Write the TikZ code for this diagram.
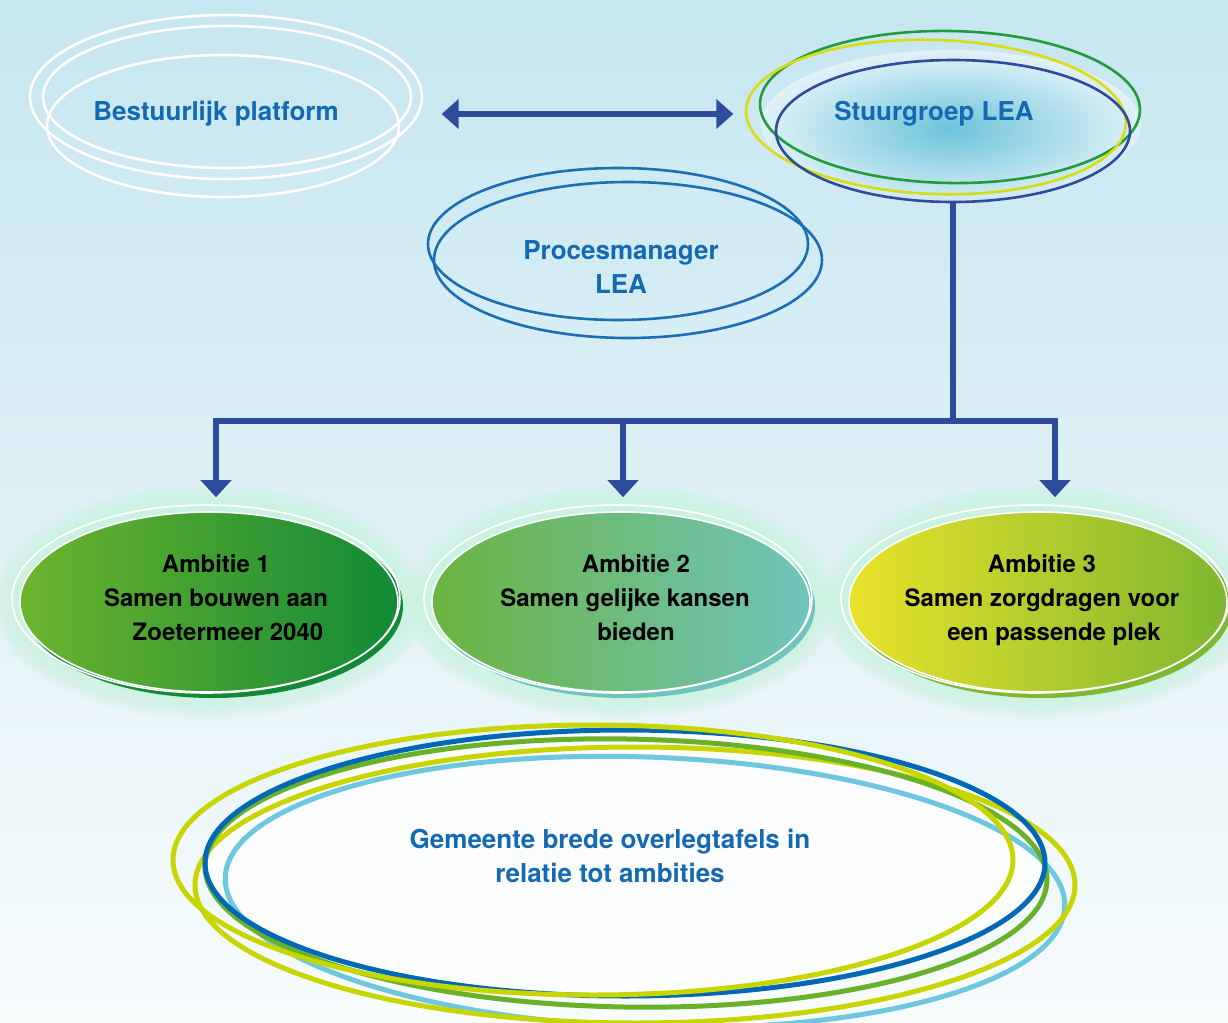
\documentclass[tikz,border=0pt]{standalone}
\usepackage{fontspec}
\setmainfont{TeX Gyre Heros}
\usetikzlibrary{shapes.geometric, arrows.meta, positioning, calc}
\definecolor{bgtop}{HTML}{C6E6F0}
\definecolor{bgmid}{HTML}{E3F2F7}
\definecolor{bgbot}{HTML}{F8FCFD}
\definecolor{textblue}{HTML}{1469B3}
\definecolor{navy}{HTML}{2F4B9C}
\definecolor{procblue}{HTML}{1B6DB5}
\definecolor{stuurgreen}{HTML}{239A3E}
\definecolor{stuuryellow}{HTML}{D8DC10}
\definecolor{glowcyan}{HTML}{6CC3DB}
\definecolor{mint}{HTML}{C4F2DA}
\definecolor{amba}{HTML}{6CB42D}
\definecolor{ambb}{HTML}{128A37}
\definecolor{ambc}{HTML}{6BB440}
\definecolor{ambd}{HTML}{6FC4BD}
\definecolor{ambe}{HTML}{E9E22A}
\definecolor{ambf}{HTML}{7EB730}
\definecolor{limering}{HTML}{C7D500}
\definecolor{bluering}{HTML}{0068B4}
\definecolor{greenring}{HTML}{6AB12A}
\definecolor{skyring}{HTML}{6DC7DE}

\begin{document}
\begin{tikzpicture}[x=0.5pt, y=0.5pt]
    \tikzstyle{ring} = [line width=1.3pt]
    \tikzstyle{bigring} = [line width=2.5pt]
    \tikzstyle{bluetext} = [text=textblue, font=\fontsize{13}{17}\selectfont\bfseries, align=center]
    \tikzstyle{ambtext} = [text=black, font=\fontsize{12}{17}\selectfont\bfseries, align=center]
    \tikzstyle{ambitie} = [ellipse, minimum width=189pt, minimum height=90pt, inner sep=0pt, draw=white, line width=0.8pt]
    \tikzstyle{bar} = [line width=2.7pt, draw=navy]
    \tikzstyle{arrow} = [bar, -{Triangle[width=15pt,length=8.5pt]}]
    \tikzstyle{dblarrow} = [bar, {Triangle[width=14.5pt,length=8.5pt]}-{Triangle[width=14.5pt,length=8.5pt]}]

    \useasboundingbox (0,0) rectangle (1228,-1023);
    \shade[top color=bgtop, middle color=bgmid, bottom color=bgbot] (0,0) rectangle (1228,-1023);

    \draw[ring, white] (226,-97) ellipse [x radius=98pt, y radius=41pt];
    \draw[ring, white] (227,-97) ellipse [x radius=92pt, y radius=35.5pt];
    \draw[ring, white] (223,-126) ellipse [x radius=88pt, y radius=35.5pt];
    \node[bluetext] (bestuur) at (216,-114) {Bestuurlijk platform};

    \begin{scope}
        \clip (951,-124) ellipse [x radius=95pt, y radius=37pt];
        \shade[inner color=glowcyan, outer color=white] (951,-130) ellipse [x radius=122pt, y radius=50pt];
    \end{scope}
    \draw[ring, stuurgreen, rotate around={-1:(950,-107)}] (950,-107) ellipse [x radius=95pt, y radius=38pt];
    \draw[ring, stuuryellow, rotate around={-2:(936,-117)}] (936,-117) ellipse [x radius=95pt, y radius=38.5pt];
    \node[ellipse, draw=navy, ring, minimum width=177pt, minimum height=71pt, inner sep=0pt] (stuur) at (953,-131) {};
    \node[bluetext] (stuurtekst) at (934,-114) {Stuurgroep LEA};

    \draw[dblarrow, shorten <=48pt, shorten >=47pt] (bestuur.east) -- (stuurtekst.west);

    \draw[ring, procblue] (618,-244) ellipse [x radius=95pt, y radius=38pt];
    \draw[ring, procblue] (628,-260) ellipse [x radius=97pt, y radius=39pt];
    \node[bluetext] (proces) at (621,-267) {Procesmanager\\LEA};

    \foreach \cx in {209,621,1038} {
        \foreach \g in {14pt,12pt,10pt,8pt,6pt,4pt,2pt}
            \fill[mint, opacity=0.16] (\cx,-602) ellipse [x radius={94.5pt+\g}, y radius={45pt+\g}];
    }
    \fill[ambb] (213,-606) ellipse [x radius=95pt, y radius=46pt];
    \fill[ambd] (625,-606) ellipse [x radius=95pt, y radius=46pt];
    \fill[ambf] (1042,-606) ellipse [x radius=95pt, y radius=46pt];
    \foreach \cx in {206,618,1035}
        \draw[white, line width=0.8pt] (\cx,-599) ellipse [x radius=97pt, y radius=47pt];

    \node[ambitie, left color=amba, right color=ambb] (amb1) at (209,-602) {};
    \node[ambitie, left color=ambc, right color=ambd] (amb2) at (621,-602) {};
    \node[ambitie, left color=ambe, right color=ambf] (amb3) at (1038,-602) {};
    \node[ambtext] (amb1tekst) at (216,-598) {Ambitie 1\\Samen bouwen aan\\\hspace*{12pt}Zoetermeer 2040};
    \node[ambtext] (amb2tekst) at (636,-598) {Ambitie 2\\Samen gelijke kansen\kern11pt\\bieden};
    \node[ambtext] (amb3tekst) at (1042,-600) {Ambitie 3\\Samen zorgdragen voor\\\hspace*{12pt}een passende plek};

    \coordinate (tak1) at (216,-421);
    \coordinate (tak2) at (623,-421);
    \coordinate (tak3) at (1055,-421);
    \draw[bar] (stuur.south) -- (stuur.south |- tak1);
    \draw[bar, line cap=rect] (tak1) -- (tak3);
    \foreach \t/\a in {tak1/amb1, tak2/amb2, tak3/amb3}
        \draw[arrow, shorten >=7pt] (\t) -- (\t |- \a.north);

    \fill[white, opacity=0.8] (625,-863) ellipse [x radius=210pt, y radius=66.5pt];
    \draw[bigring, skyring, rotate around={-2:(645,-892)}] (645,-892) ellipse [x radius=210pt, y radius=67.5pt];
    \draw[bigring, limering] (635,-885) ellipse [x radius=220pt, y radius=69pt];
    \draw[bigring, greenring, rotate around={-1:(626,-873)}] (626,-873) ellipse [x radius=210.5pt, y radius=67pt];
    \draw[bigring, bluering] (625,-863) ellipse [x radius=210pt, y radius=66.5pt];
    \draw[bigring, limering] (593,-860) ellipse [x radius=210pt, y radius=67.5pt];
    \node[bluetext] (gemeente) at (610,-856) {Gemeente brede overlegtafels in\\relatie tot ambities};
\end{tikzpicture}
\end{document}
